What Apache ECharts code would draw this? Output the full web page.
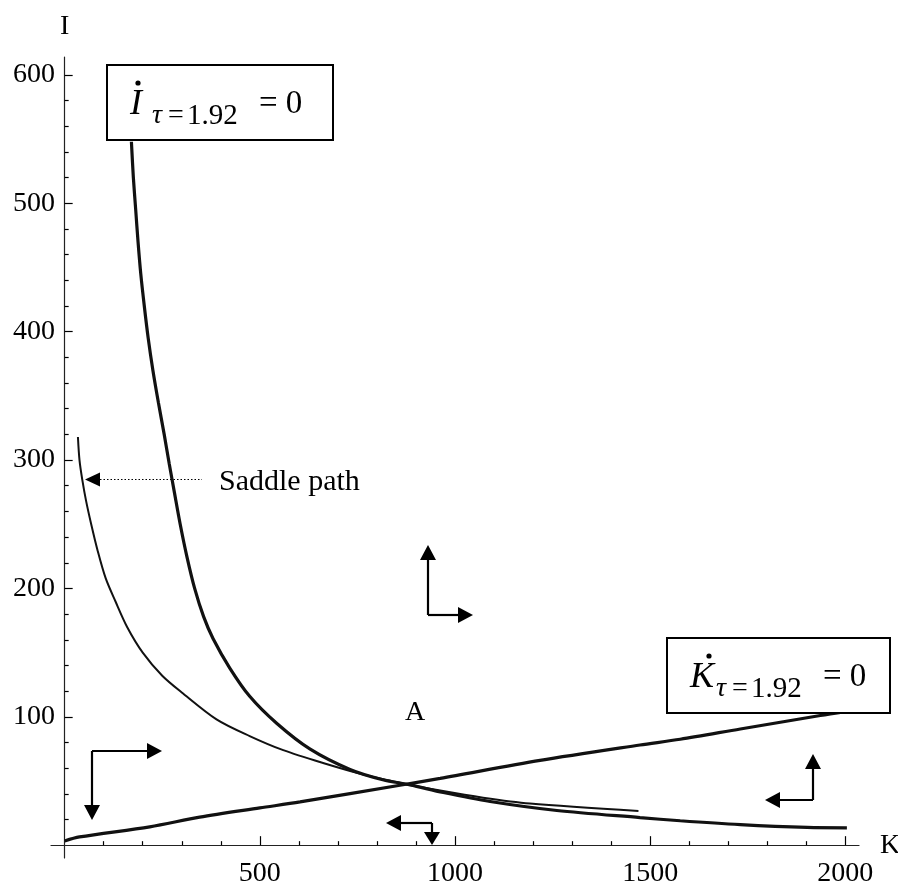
<!DOCTYPE html>
<html>
<head>
<meta charset="utf-8">
<title>Saddle path</title>
<script src="https://cdn.jsdelivr.net/npm/echarts@6/dist/echarts.min.js"></script>
<style>
html, body { margin: 0; padding: 0; background: #fff; }
#main { width: 898px; height: 886px; }
</style>
</head>
<body>
<div id="main"></div>
<script>
// I-dot = 0 isocline
var iDotK = [171, 176, 182, 188, 195, 204, 214, 226, 240, 255, 268, 281, 296, 313, 333, 356, 380, 423, 474, 543, 628, 731, 815, 885, 970, 1090, 1261, 1474, 1577, 1731, 1902, 2004];
var iDotI = [548, 520, 495, 470, 445, 420, 395, 370, 345, 320, 297, 275, 250, 225, 200, 178, 161, 138, 116, 95, 75, 59, 51, 47, 41, 34, 27, 21.5, 19, 16, 13.8, 13.5];

// K-dot = 0 isocline
var kDotK = [0, 38, 218, 346, 500, 603, 859, 962, 1218, 1474, 1577, 1731, 1936, 2000];
var kDotI = [3.3, 6.4, 14.3, 21.8, 29, 33.7, 46.7, 52, 66, 78, 82.5, 90.5, 101, 104];

// saddle path
var saddleK = [34, 38, 45, 55, 68, 84, 105, 130, 160, 200, 250, 300, 389, 474, 560, 662, 765, 867, 962, 1072, 1192, 1470];
var saddleI = [318, 300, 285, 268, 250, 230, 208, 190, 170, 150, 132, 119, 98, 85, 74, 64, 55, 48, 42.5, 37, 32.5, 26.7];

// ticks
var xMajor = [500, 1000, 1500, 2000];
var xMinor = [100, 200, 300, 400, 600, 700, 800, 900, 1100, 1200, 1300, 1400, 1600, 1700, 1800, 1900];
var yMajor = [100, 200, 300, 400, 500, 600];
var yMinor = [20, 40, 60, 80, 120, 140, 160, 180, 220, 240, 260, 280, 320, 340, 360, 380, 420, 440, 460, 480, 520, 540, 560, 580];

var serif = '"Liberation Serif", "DejaVu Serif", serif';

function zip(a, b) {
	var out = [];
	for (var i = 0; i < a.length; i++) out.push([a[i], b[i]]);
	return out;
}

// arrow from (x1,y1) to tip (x2,y2)
function arrow(x1, y1, x2, y2, hl, hw, width) {
	hl = hl || 15; hw = hw || 8;
	var dx = x2 - x1, dy = y2 - y1;
	var L = Math.sqrt(dx * dx + dy * dy);
	var ux = dx / L, uy = dy / L;
	var bx = x2 - ux * hl, by = y2 - uy * hl;
	return [
		{ type: 'polyline', shape: { points: [[x1, y1], [bx, by]] }, style: { stroke: '#000', lineWidth: width || 2.2, fill: null }, z: 20 },
		{ type: 'polygon', shape: { points: [[x2, y2], [bx - uy * hw, by + ux * hw], [bx + uy * hw, by - ux * hw]] }, style: { fill: '#000' }, z: 20 }
	];
}

function txt(x, y, s, size, italic, align) {
	return {
		type: 'text', x: x, y: y, z: 31,
		style: { text: s, fontFamily: serif, fontSize: size, fontStyle: italic ? 'italic' : 'normal', fill: '#000', align: align || 'left', verticalAlign: 'middle' }
	};
}

// box with "X-dot_{tau=1.92} = 0"
function nullclineBox(x, y, w, letter, dotX, shift) {
	return [
		{ type: 'rect', shape: { x: x, y: y, width: w, height: 75 }, style: { fill: '#fff', stroke: '#000', lineWidth: 2 }, z: 30 },
		txt(x + 23, y + 40, letter, 36, true),
		{ type: 'circle', shape: { cx: x + dotX, cy: y + 18, r: 2.6 }, style: { fill: '#000' }, z: 31 },
		txt(x + 45 + shift, y + 51, 'τ', 28, true),
		txt(x + 61 + shift, y + 51, '=', 28, false),
		txt(x + 80 + shift, y + 51, '1.92', 29, false),
		txt(x + 152 + shift, y + 39, '= 0', 33, false)
	];
}

var graphics = [];
graphics = graphics.concat(nullclineBox(107, 65, 226, 'I', 31, 0));
graphics = graphics.concat(nullclineBox(667, 638, 223, 'K', 42, 4));
graphics.push(txt(415, 713, 'A', 28, false, 'center'));
graphics.push(txt(219, 482, 'Saddle path', 30, false));

// saddle path pointer
graphics = graphics.concat(arrow(100, 479.5, 85, 479.5, 15, 7, 1));
graphics.push({ type: 'line', shape: { x1: 100, y1: 479.5, x2: 202, y2: 479.5 }, style: { stroke: '#000', lineWidth: 1.2, lineDash: [1.5, 2] }, z: 20 });

// direction arrows
graphics = graphics.concat(arrow(428, 615, 428, 545), arrow(428, 615, 473, 615));
graphics = graphics.concat(arrow(92, 751, 92, 820), arrow(92, 751, 162, 751));
graphics = graphics.concat(arrow(432, 823, 386, 823), arrow(432, 823, 432, 845, 13, 8));
graphics = graphics.concat(arrow(813, 800, 813, 754), arrow(813, 800, 765, 800));

var tickStyle = { color: '#000', width: 1.2 };
var plain = function (v) { return String(v); };

var chart = echarts.init(document.getElementById('main'));
var option = {
	animation: false,
	backgroundColor: '#fff',
	grid: { left: 51, top: 57, width: 808, height: 801, containLabel: false, outerBoundsMode: 'none' },
	xAxis: [
		{
			type: 'value', position: 'bottom', min: -35, max: 2035,
			name: 'K', nameLocation: 'end', nameGap: 21,
			nameTextStyle: { fontFamily: serif, fontSize: 28, color: '#000' },
			axisLine: { show: true, onZero: true, onZeroAxisIndex: 0, lineStyle: { color: '#222', width: 1.2 } },
			axisTick: { show: true, inside: true, length: 9, customValues: xMajor, lineStyle: tickStyle },
			axisLabel: { show: true, customValues: xMajor, margin: 2, formatter: plain, fontFamily: serif, fontSize: 28, color: '#000' },
			splitLine: { show: false }
		},
		{
			type: 'value', position: 'bottom', min: -35, max: 2035,
			axisLine: { show: false, onZero: true, onZeroAxisIndex: 0 },
			axisTick: { show: true, inside: true, length: 4, customValues: xMinor, lineStyle: tickStyle },
			axisLabel: { show: false },
			splitLine: { show: false }
		}
	],
	yAxis: [
		{
			type: 'value', position: 'left', min: -10, max: 614,
			name: 'I', nameLocation: 'end', nameGap: 16,
			nameTextStyle: { fontFamily: serif, fontSize: 28, color: '#000' },
			axisLine: { show: true, onZero: true, onZeroAxisIndex: 0, lineStyle: { color: '#222', width: 1.2 } },
			axisTick: { show: true, inside: true, length: 8, customValues: yMajor, lineStyle: tickStyle },
			axisLabel: { show: true, customValues: yMajor, margin: -4, formatter: plain, fontFamily: serif, fontSize: 28, color: '#000' },
			splitLine: { show: false }
		},
		{
			type: 'value', position: 'left', min: -10, max: 614,
			axisLine: { show: false, onZero: true, onZeroAxisIndex: 0 },
			axisTick: { show: true, inside: true, length: 4, customValues: yMinor, lineStyle: tickStyle },
			axisLabel: { show: false },
			splitLine: { show: false }
		}
	],
	series: [
		{
			name: 'I-dot = 0', type: 'line', xAxisIndex: 0, yAxisIndex: 0,
			data: zip(iDotK, iDotI), symbol: 'none', smooth: 0.3,
			lineStyle: { color: '#111', width: 3.2 }, silent: true, z: 3
		},
		{
			name: 'K-dot = 0', type: 'line', xAxisIndex: 0, yAxisIndex: 0,
			data: zip(kDotK, kDotI), symbol: 'none', smooth: 0.3,
			lineStyle: { color: '#111', width: 3.2 }, silent: true, z: 3
		},
		{
			name: 'Saddle path', type: 'line', xAxisIndex: 0, yAxisIndex: 0,
			data: zip(saddleK, saddleI), symbol: 'none', smooth: 0.3,
			lineStyle: { color: '#111', width: 2 }, silent: true, z: 2
		}
	],
	graphic: { elements: graphics }
};
chart.setOption(option);
</script>
</body>
</html>
